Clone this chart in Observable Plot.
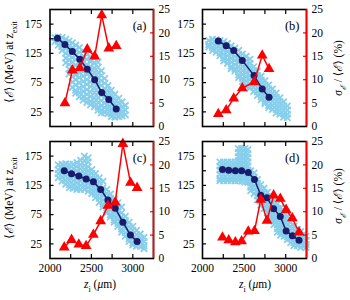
<!DOCTYPE html>
<html><head><meta charset="utf-8">
<script src="https://cdn.jsdelivr.net/npm/d3@7"></script>
<script src="https://cdn.jsdelivr.net/npm/@observablehq/plot@0.6"></script>
<style>
body{margin:0;background:#fff;}
#wrap{position:relative;width:350px;height:300px;font-family:"Liberation Serif","Times New Roman","DejaVu Serif",serif;overflow:hidden;background:#fff}
#wrap svg{position:absolute}
.lab{position:absolute;font-size:11.5px;white-space:nowrap;color:#000;transform:translate(-50%,-50%)}
.rot{transform:translate(-50%,-50%) rotate(-90deg)}
</style></head><body><div id="wrap"></div>
<script>
// ---- axis ticks / labels ----
const xDomain = [2000, 3250];
const yDomain = [0, 200];
const rMax = 25;
const xTicks = [2250, 2500, 2750, 3000];
const xLabels = [2000, 2500, 3000];
const yTicks = [25, 50, 75, 100, 125, 150, 175];
const yLabels = [25, 75, 125, 175];
const rTicks = [5, 10, 15, 20];
const rLabels = [0, 5, 10, 15, 20, 25];
const tags = ["(a)", "(b)", "(c)", "(d)"];

// ---- panel (a) ----
const zA = [2090, 2180, 2270, 2360, 2450, 2540, 2625, 2710, 2800];
const eA = [151, 140, 128, 115, 98, 80, 58, 46, 30];
const szA = [2180, 2270, 2360, 2450, 2540, 2625, 2710, 2800];
const sA = [5, 12, 12.5, 16.5, 15, 23.8, 16.7, 17.2];
const cloudA = [
 [2060,[152,145]],[2100,[153,146,139]],[2145,[152,145,137,130]],
 [2190,[149,141,133,125,117,109]],[2230,[146,138,130,122,114,106,98,90]],
 [2270,[143,135,127,118,110,102,93,85,76,67]],[2310,[139,131,122,114,105,97,88,80,71,62,57]],
 [2355,[135,127,118,110,101,92,84,75,66,58,51]],[2400,[129,120,112,103,94,86,77,68,60,51,45]],
 [2445,[123,115,106,98,89,80,72,63,55,47,41]],[2490,[119,111,102,93,85,76,68,59,51,43,37]],
 [2535,[118,109,100,92,83,75,66,58,49,41,34]],[2580,[110,101,92,84,75,67,58,49,41,33,28]],
 [2620,[95,87,78,70,61,53,44,36,28,23]],[2660,[82,74,65,57,49,40,32,24]],
 [2700,[70,62,54,46,38,30,22]],[2740,[62,54,46,38,30,22,17]],[2785,[55,47,39,31,23,16]],
 [2830,[48,40,32,24,17]],[2870,[42,34,26,18]],[2910,[36,28,20]]
];

// ---- panel (b) ----
const zB = [2190, 2285, 2375, 2478, 2620, 2718, 2800];
const eB = [146, 138, 130, 113, 87, 64, 50];
const szB = [2190, 2285, 2375, 2478, 2620, 2718, 2800];
const sB = [2.7, 3.5, 6.0, 8.2, 9.5, 15.2, 12.3];
const cloudB = [
 [2075,[147,140,136]],[2120,[149,142,135,130]],[2165,[148,141,134,127]],
 [2210,[147,140,133,126,121]],[2255,[145,138,131,124,117,112]],[2300,[142,135,128,121,114,108]],
 [2345,[138,131,124,117,110,103,99]],[2390,[134,127,120,113,106,99,95]],
 [2435,[130,123,116,109,102,95,88,84]],[2480,[124,117,110,103,96,89,82,77]],
 [2525,[120,113,106,99,92,85,78,71,68]],[2570,[115,108,101,94,87,80,73,66]],
 [2615,[102,95,88,81,74,67,60]],[2660,[94,87,80,73,66,59,53]],[2705,[86,79,72,65,58,51,46]],
 [2750,[78,71,64,57,50,43,39]],[2795,[71,64,57,50,43,36,32]],[2840,[64,57,50,43,36,29]],
 [2885,[57,50,43,36,29,23]],[2930,[49,42,35,28,21]],[2975,[42,35,28,21,16]],[3020,[35,28,21,15]]
];

// ---- panel (c) ----
const zC = [2172, 2260, 2348, 2436, 2524, 2612, 2700, 2788, 2880, 2972, 3052];
const eC = [150, 145, 141, 136, 131, 118, 100, 86, 62, 40, 29];
const szC = [2172, 2260, 2348, 2436, 2524, 2612, 2700, 2788, 2880, 2972, 3052];
const sC = [2.4, 4.0, 3.0, 2.7, 5.1, 8.0, 11.3, 12.0, 24.5, 16.2, 15.1];
const cloudC = [
 [2100,[160,152,145,138]],[2145,[161,154,147,139,132]],[2190,[162,155,148,141,133,127]],
 [2235,[161,154,147,140,133,126,121]],[2280,[161,154,147,140,133,126,120]],
 [2325,[164,157,150,143,136,129,122,118]],[2370,[168,160,153,146,139,132,125,118]],
 [2415,[175,167,159,152,145,138,131,124,118]],[2460,[172,165,157,150,143,136,129,122,115]],
 [2505,[152,145,138,131,124,117,111]],[2550,[145,138,131,124,117,110,104]],
 [2595,[138,131,124,117,110,103,96]],[2640,[132,121,114,107,100,93,88]],
 [2685,[118,111,104,97,90,83,78]],[2730,[110,103,96,89,82,75,71]],
 [2775,[101,94,87,80,73,66,62]],[2820,[95,88,81,74,67,60,55]],[2865,[88,78,71,64,57,50,45]],
 [2910,[72,65,58,51,44,38]],[2955,[62,55,48,41,34,29]],[3000,[55,48,41,34,27,23]],
 [3045,[48,41,34,27,21]],[3090,[42,35,28,21]],[3135,[36,29,22,17]]
];

// ---- panel (d) ----
const zD = [2240, 2315, 2395, 2470, 2550, 2625, 2700, 2775, 2855, 2935, 3005, 3080, 3160];
const eD = [152, 151, 150, 150, 147, 135, 108, 104, 85, 72, 47, 39, 31];
const szD = [2240, 2315, 2395, 2470, 2550, 2625, 2700, 2775, 2855, 2935, 3005, 3080, 3160];
const sD = [4.5, 3.9, 3.5, 3.7, 5.8, 5.9, 12.6, 8.1, 13.5, 12.8, 10.4, 8.6, 5.6];
const cloudD = [
 [2210,[165,158,151,144,137,133]],[2255,[165,158,151,144,137,133]],[2300,[165,158,151,144,137,133]],
 [2345,[165,158,151,144,137,133]],[2390,[165,158,151,144,137,133]],
 [2430,[188,181,174,167,160,153,146,139,133]],[2470,[188,181,174,167,160,153,146,139,132]],
 [2510,[188,181,174,167,160,153,146,139,131]],[2545,[186,179,172,165,158,151,144,137,130]],
 [2580,[150,143,136,129,122,116]],[2620,[146,139,132,125,118,111]],[2660,[135,128,121,114,107,100]],
 [2700,[126,119,112,105,98,91]],[2740,[120,113,106,99,92,85]],[2780,[113,106,99,92,85,78]],
 [2820,[106,99,92,85,78,71,66]],[2860,[99,92,85,78,71,64,58]],[2900,[93,86,79,72,65,58,51,45]],
 [2940,[87,80,73,66,59,52,45,40]],[2980,[80,73,66,59,52,45,38]],[3020,[72,65,58,51,44,37,32]],
 [3060,[62,55,48,41,34,27]],[3100,[55,48,41,34,27,22]],[3140,[50,43,36,29,22]],
 [3180,[46,39,32,25,19]],[3220,[42,35,28,21]],[3245,[38,31,24,19]]
];

const K = yDomain[1] / rMax;
const FONT = "'Liberation Serif', 'Times New Roman', 'DejaVu Serif', serif";
const wrap = document.getElementById("wrap");

function panel(o) {
  const pts = o.cloud.flatMap(([x, ys]) => ys.map(y => ({x, y})));
  const mean = o.z.map((x, i) => ({x, y: o.e[i]}));
  const sig = o.sz.map((x, i) => ({x, y: o.s[i] * K}));
  const svg = Plot.plot({
    width: o.w, height: o.h,
    marginLeft: o.ml, marginRight: o.mr, marginTop: o.mt, marginBottom: o.mb,
    x: {domain: xDomain, label: null},
    y: {domain: yDomain, label: null},
    style: {fontFamily: FONT, fontSize: "11.5px", background: "transparent", overflow: "visible", color: "black"},
    marks: [
      Plot.dot(pts, {x: "x", y: "y", symbol: "times", r: 3, stroke: "#87ceeb", strokeWidth: 1.8}),
      Plot.line(mean, {x: "x", y: "y", stroke: "#1b1b6e", strokeWidth: 1.5}),
      Plot.dot(mean, {x: "x", y: "y", r: 3.5, fill: "#1b1b6e", stroke: "none"}),
      Plot.line(sig, {x: "x", y: "y", stroke: "#ff0000", strokeWidth: 1.5}),
      Plot.dot(sig, {x: "x", y: "y", symbol: "triangle", r: 4, fill: "#ff0000", stroke: "none"}),
      Plot.text([o.tag], {text: d => d, frameAnchor: "top-right", dx: -7, dy: 12, textAnchor: "end", fontSize: 12.5}),
      Plot.axisY(yTicks, {anchor: "left", tickSize: -4, tickPadding: 12, tickFormat: d => yLabels.includes(d) ? String(d) : "", stroke: "black", strokeWidth: 1.2}),
      Plot.axisY(rTicks.map(d => d * K), {anchor: "right", tickSize: -4, tickFormat: () => "", stroke: "#ff0000", strokeWidth: 1.2}),
      Plot.axisY(rLabels.map(d => d * K), {anchor: "right", tickSize: 0, tickPadding: 5, tickFormat: d => String(d / K)}),
      Plot.axisX(xTicks, {anchor: "bottom", tickSize: -4, tickFormat: () => "", strokeWidth: 1.2}),
      Plot.axisX(xTicks, {anchor: "top", tickSize: -4, tickFormat: () => "", strokeWidth: 1.2}),
      o.xlab ? Plot.axisX(xLabels, {anchor: "bottom", tickSize: 0, tickPadding: 5, tickFormat: d => String(d)}) : null,
      Plot.frame({stroke: "black", strokeWidth: 1.6}),
      Plot.ruleX([xDomain[1]], {stroke: "#ff0000", strokeWidth: 1.6})
    ]
  });
  svg.style.left = o.left + "px";
  svg.style.top = o.top + "px";
  wrap.appendChild(svg);
}

panel({cloud: cloudA, z: zA, e: eA, sz: szA, s: sA, tag: tags[0], left: 0, top: 0, w: 175, h: 140, ml: 49.5, mr: 22, mt: 9, mb: 14, xlab: false});
panel({cloud: cloudB, z: zB, e: eB, sz: szB, s: sB, tag: tags[1], left: 175, top: 0, w: 175, h: 140, ml: 27, mr: 44, mt: 9, mb: 14, xlab: false});
panel({cloud: cloudC, z: zC, e: eC, sz: szC, s: sC, tag: tags[2], left: 0, top: 132, w: 175, h: 160, ml: 49.5, mr: 22, mt: 9, mb: 34, xlab: true});
panel({cloud: cloudD, z: zD, e: eD, sz: szD, s: sD, tag: tags[3], left: 175, top: 132, w: 175, h: 160, ml: 27, mr: 44, mt: 9, mb: 34, xlab: true});

function label(html, x, y, rot) {
  const d = document.createElement("div");
  d.className = "lab" + (rot ? " rot" : "");
  d.style.left = x + "px";
  d.style.top = y + "px";
  d.innerHTML = html;
  wrap.appendChild(d);
}
const yTitle = "⟨<i>ℰ</i>⟩ (MeV) at z<sub style='font-size:8px'>exit</sub>";
const rTitle = "<i>σ</i><sub style='font-size:8px'><i>ℰ</i></sub> / ⟨<i>ℰ</i>⟩ (%)";
const xTitle = "<i>z</i><sub style='font-size:8px'>i</sub> (<i>μ</i>m)";
label(yTitle, 10, 62, true);
label(yTitle, 10, 198, true);
label(rTitle, 339, 68, true);
label(rTitle, 339, 196, true);
label(xTitle, 100, 286, false);
label(xTitle, 255, 286, false);
</script></body></html>
